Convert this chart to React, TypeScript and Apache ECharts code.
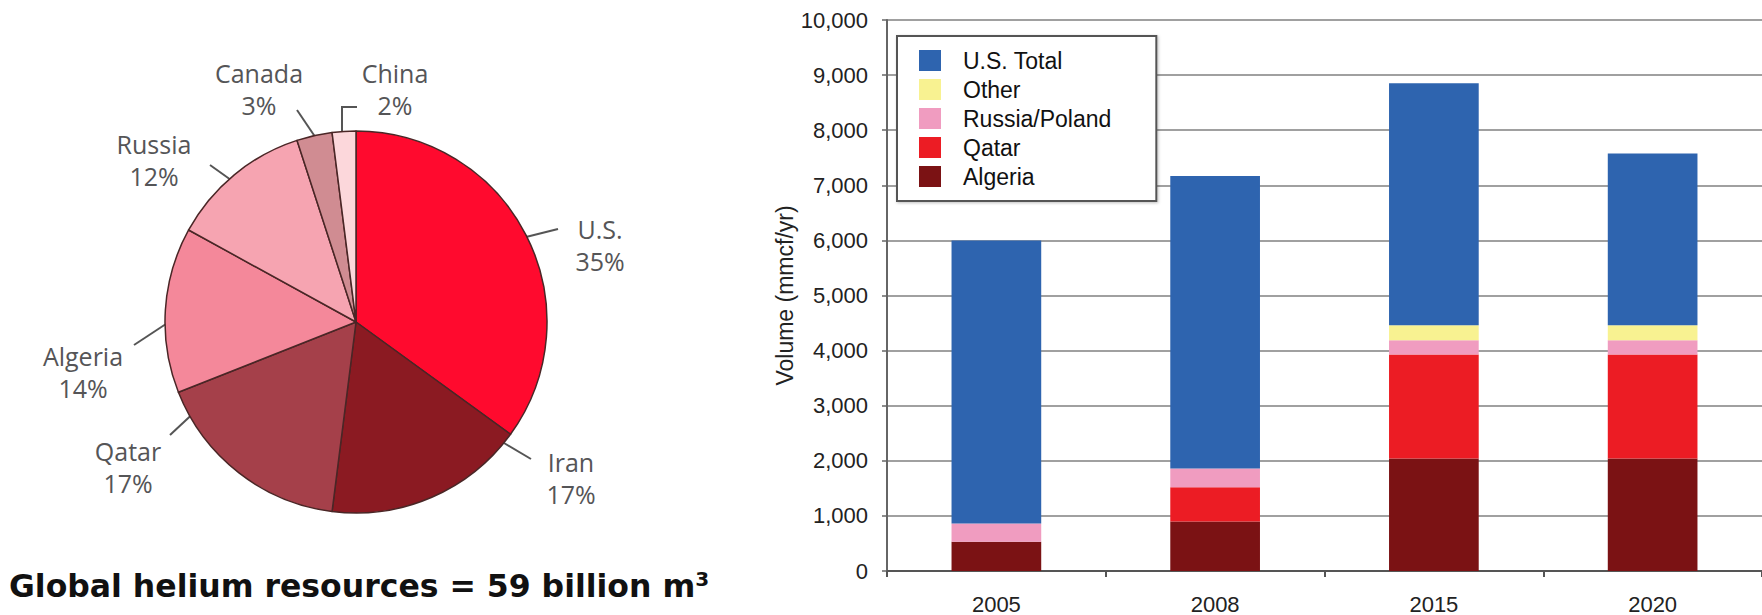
import React, { useEffect, useRef } from 'react';
import * as echarts from 'echarts';

// ---- Pie data: global helium resources ----
const pieNames = ['U.S.', 'Iran', 'Qatar', 'Algeria', 'Russia', 'Canada', 'China'];
const pieShares = [35, 17, 17, 14, 12, 3, 2];
const pieColors = ['#FF0A2E', '#8B1A22', '#A5404A', '#F4889A', '#F6A4B1', '#D08C92', '#FCD7DB'];

// ---- Bar data: helium supply volume (mmcf/yr) ----
const years = ['2005', '2008', '2015', '2020'];
const algeria = [530, 900, 2040, 2040];
const qatar = [0, 620, 1890, 1890];
const russiaPoland = [330, 340, 260, 260];
const other = [0, 0, 270, 270];
const usTotal = [5140, 5310, 4390, 3115];
const yTicks = { min: 0, max: 10000, interval: 1000 };

const barSeriesDefs = [
  { name: 'Algeria', data: algeria, color: '#7B1214' },
  { name: 'Qatar', data: qatar, color: '#EC1C24' },
  { name: 'Russia/Poland', data: russiaPoland, color: '#F09CC0' },
  { name: 'Other', data: other, color: '#F8F291' },
  { name: 'U.S. Total', data: usTotal, color: '#2E64AF' },
];
const legendOrder = ['U.S. Total', 'Other', 'Russia/Poland', 'Qatar', 'Algeria'];

// label placement for the pie (layout, not data)
const pieLabelLayout: { at: number[]; line: number[][] }[] = [
  { at: [600, 245], line: [[518, 239], [558, 229]] },
  { at: [571, 478], line: [[504, 443], [531, 459]] },
  { at: [128, 467], line: [[199, 408], [170, 435]] },
  { at: [83, 372], line: [[172, 320], [134, 345]] },
  { at: [154, 160], line: [[245, 190], [210, 165]] },
  { at: [259, 89], line: [[322, 147], [297, 110]] },
  { at: [395, 89], line: [[342, 140], [342, 107], [357, 107]] },
];

export default function App() {
  const ref = useRef<HTMLDivElement>(null);
  useEffect(() => {
    if (!ref.current) return;
    const chart = echarts.init(ref.current, undefined, { renderer: 'svg' });
    const axisFont = 'Liberation Sans, Arial, sans-serif';
    chart.setOption({
      animation: false,
      backgroundColor: '#ffffff',
      legend: {
        data: legendOrder,
        orient: 'vertical',
        left: 897,
        top: 36,
        padding: [13, 45, 13, 22],
        itemGap: 6,
        itemWidth: 22,
        itemHeight: 21,
        icon: 'rect',
        backgroundColor: '#ffffff',
        borderColor: '#555555',
        borderWidth: 2,
        shadowColor: 'rgba(0,0,0,0.25)',
        shadowBlur: 3,
        shadowOffsetX: 1,
        shadowOffsetY: 1,
        selectedMode: false,
        textStyle: {
          fontFamily: axisFont,
          fontSize: 23,
          lineHeight: 21,
          color: '#111111',
          padding: [0, 0, 0, 17],
        },
      },
      grid: { left: 887, right: -3, top: 20, bottom: 44, containLabel: false },
      xAxis: {
        type: 'category',
        data: years,
        axisLine: { show: true, lineStyle: { color: '#555555', width: 2 } },
        axisTick: { show: true, length: 6, alignWithLabel: false, lineStyle: { color: '#555555', width: 2 } },
        axisLabel: { fontFamily: axisFont, fontSize: 22, color: '#222222', margin: 22 },
      },
      yAxis: {
        type: 'value',
        min: yTicks.min,
        max: yTicks.max,
        interval: yTicks.interval,
        name: 'Volume (mmcf/yr)',
        nameLocation: 'middle',
        nameRotate: 90,
        nameGap: 90,
        nameTextStyle: { fontFamily: axisFont, fontSize: 23, color: '#222222' },
        axisLine: { show: true, lineStyle: { color: '#666666', width: 2 } },
        axisTick: { show: true, length: 5, lineStyle: { color: '#666666', width: 1.5 } },
        axisLabel: {
          fontFamily: axisFont,
          fontSize: 22,
          color: '#222222',
          margin: 19,
          formatter: (v: number) => v.toLocaleString('en-US'),
        },
        splitLine: { show: true, lineStyle: { color: '#a0a0a0', width: 2 } },
      },
      series: [
        {
          type: 'pie',
          center: [356, 322],
          radius: 191,
          startAngle: 90,
          clockwise: true,
          avoidLabelOverlap: false,
          emphasis: { disabled: true },
          itemStyle: { borderColor: '#4a2626', borderWidth: 1.5 },
          label: {
            show: true,
            position: 'outside',
            formatter: '{b}\n{c}%',
            fontFamily: 'Open Sans, sans-serif',
            fontSize: 25,
            lineHeight: 32,
            color: '#555557',
            align: 'center',
          },
          labelLine: { show: true, length: 20, length2: 5, lineStyle: { color: '#555555', width: 2 } },
          labelLayout: (p: any) => {
            const L = pieLabelLayout[p.dataIndex];
            return { x: L.at[0], y: L.at[1], align: 'center', verticalAlign: 'middle', labelLinePoints: L.line };
          },
          data: pieNames.map((n, i) => ({ name: n, value: pieShares[i], itemStyle: { color: pieColors[i] } })),
        },
        ...barSeriesDefs.map((s) => ({
          type: 'bar',
          name: s.name,
          stack: 'total',
          barWidth: '41%',
          data: s.data,
          itemStyle: { color: s.color },
          emphasis: { disabled: true },
        })),
      ],
      graphic: [
        {
          type: 'text',
          left: 9,
          top: 569,
          style: {
            text: '{a|Global helium resources = 59 billion m}{s|3}',
            rich: {
              a: { fontFamily: 'DejaVu Sans, sans-serif', fontWeight: 'bold', fontSize: 31.5, lineHeight: 34, fill: '#111111' },
              s: { fontFamily: 'DejaVu Sans, sans-serif', fontWeight: 'bold', fontSize: 20, lineHeight: 34, fill: '#111111', verticalAlign: 'top' },
            },
          },
        },
      ],
    });
    return () => chart.dispose();
  }, []);
  return <div ref={ref} style={{ position: 'absolute', left: 0, top: 0, width: 1762, height: 615 }} />;
}
